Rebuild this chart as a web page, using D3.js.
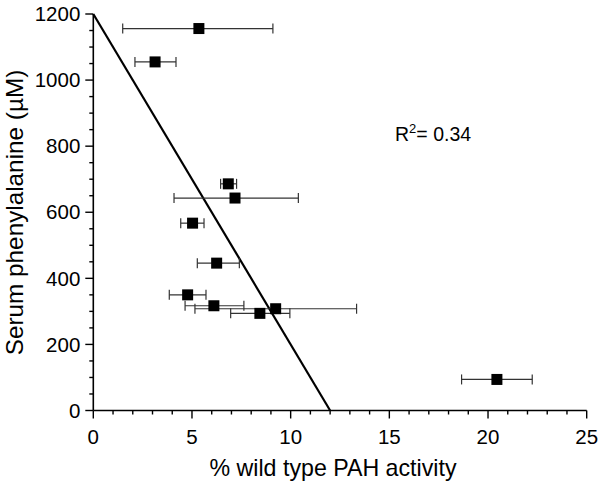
<!DOCTYPE html>
<html><head><meta charset="utf-8">
<script src="https://cdn.jsdelivr.net/npm/d3@7"></script>
<style>body{margin:0;background:#fff}svg{display:block}text{font-family:"Liberation Sans",Arial,Helvetica,sans-serif;fill:#000}</style>
</head><body><div id="chart"></div>
<script>
const activity = [5.35, 3.13, 6.84, 7.18, 5.03, 6.25, 4.78, 6.11, 8.44, 9.24, 20.45];
const serumPhe = [1156, 1055, 686, 643, 567, 446, 350, 317, 294, 308, 94];
const activityLow = [1.49, 2.11, 6.45, 4.09, 4.43, 5.27, 3.85, 4.65, 6.96, 5.15, 18.66];
const activityHigh = [9.1, 4.19, 7.26, 10.39, 5.61, 7.40, 5.71, 7.63, 9.96, 13.34, 22.24];
const fitLine = [[0, 1200], [12, 0]];
const xTicks = [0, 5, 10, 15, 20, 25];
const yTicks = [0, 200, 400, 600, 800, 1000, 1200];

const W = 600, H = 484;
const svg = d3.select("#chart").append("svg").attr("width", W).attr("height", H);
const x = d3.scaleLinear().domain([0, 25]).range([93.3, 586.7]);
const y = d3.scaleLinear().domain([0, 1200]).range([410.5, 14]);

const data = activity.map((v, i) => ({x: v, y: serumPhe[i], lo: activityLow[i], hi: activityHigh[i]}));

// axes
const xAxis = svg.append("g").attr("transform", `translate(0,${y(0)})`);
xAxis.append("line").attr("x1", x(0)).attr("x2", x(25)).attr("stroke", "#000").attr("stroke-width", 1.6);
xAxis.selectAll("line.minor").data(d3.range(0, 26)).enter().append("line")
  .attr("x1", d => x(d)).attr("x2", d => x(d)).attr("y1", 0).attr("y2", d => d % 5 === 0 ? 8 : 4)
  .attr("stroke", "#000").attr("stroke-width", 1.4);
xAxis.selectAll("text").data(xTicks).enter().append("text")
  .attr("x", d => x(d)).attr("y", 33).attr("text-anchor", "middle").attr("font-size", 20.5).text(d => d);

const yAxis = svg.append("g").attr("transform", `translate(${x(0)},0)`);
yAxis.append("line").attr("y1", y(0)).attr("y2", y(1200)).attr("stroke", "#000").attr("stroke-width", 1.6);
yAxis.selectAll("line.minor").data(d3.range(0, 1201, 50)).enter().append("line")
  .attr("y1", d => y(d)).attr("y2", d => y(d)).attr("x1", 0).attr("x2", d => d % 200 === 0 ? -8 : -4)
  .attr("stroke", "#000").attr("stroke-width", 1.4);
yAxis.selectAll("text").data(yTicks).enter().append("text")
  .attr("x", -13).attr("y", d => y(d)).attr("dy", "0.35em").attr("text-anchor", "end").attr("font-size", 20.5).text(d => d);

// axis titles
svg.append("text").attr("x", 333).attr("y", 476).attr("text-anchor", "middle").attr("font-size", 23.2)
  .text("% wild type PAH activity");
svg.append("text").attr("transform", "translate(23,212.5) rotate(-90)").attr("text-anchor", "middle").attr("font-size", 24.3)
  .text("Serum phenylalanine (µM)");

// regression line
svg.append("path").datum(fitLine)
  .attr("d", d3.line().x(d => x(d[0])).y(d => y(d[1])))
  .attr("fill", "none").attr("stroke", "#000").attr("stroke-width", 2.2);

// error bars
const eb = svg.append("g").attr("stroke", "#333").attr("stroke-width", 1.2);
eb.selectAll("line.bar").data(data).enter().append("line")
  .attr("x1", d => x(d.lo)).attr("x2", d => x(d.hi)).attr("y1", d => y(d.y)).attr("y2", d => y(d.y));
eb.selectAll("line.capl").data(data).enter().append("line")
  .attr("x1", d => x(d.lo)).attr("x2", d => x(d.lo)).attr("y1", d => y(d.y) - 5).attr("y2", d => y(d.y) + 5);
eb.selectAll("line.caph").data(data).enter().append("line")
  .attr("x1", d => x(d.hi)).attr("x2", d => x(d.hi)).attr("y1", d => y(d.y) - 5).attr("y2", d => y(d.y) + 5);

// points
svg.selectAll("rect.pt").data(data).enter().append("rect")
  .attr("x", d => x(d.x) - 5.5).attr("y", d => y(d.y) - 5.5).attr("width", 11).attr("height", 11).attr("fill", "#000");

// R^2
const r2 = svg.append("text").attr("x", 395).attr("y", 140.5).attr("font-size", 19.5);
r2.append("tspan").text("R");
r2.append("tspan").attr("font-size", 13).attr("dy", -8).text("2");
r2.append("tspan").attr("dy", 8).text("= 0.34");
</script></body></html>
